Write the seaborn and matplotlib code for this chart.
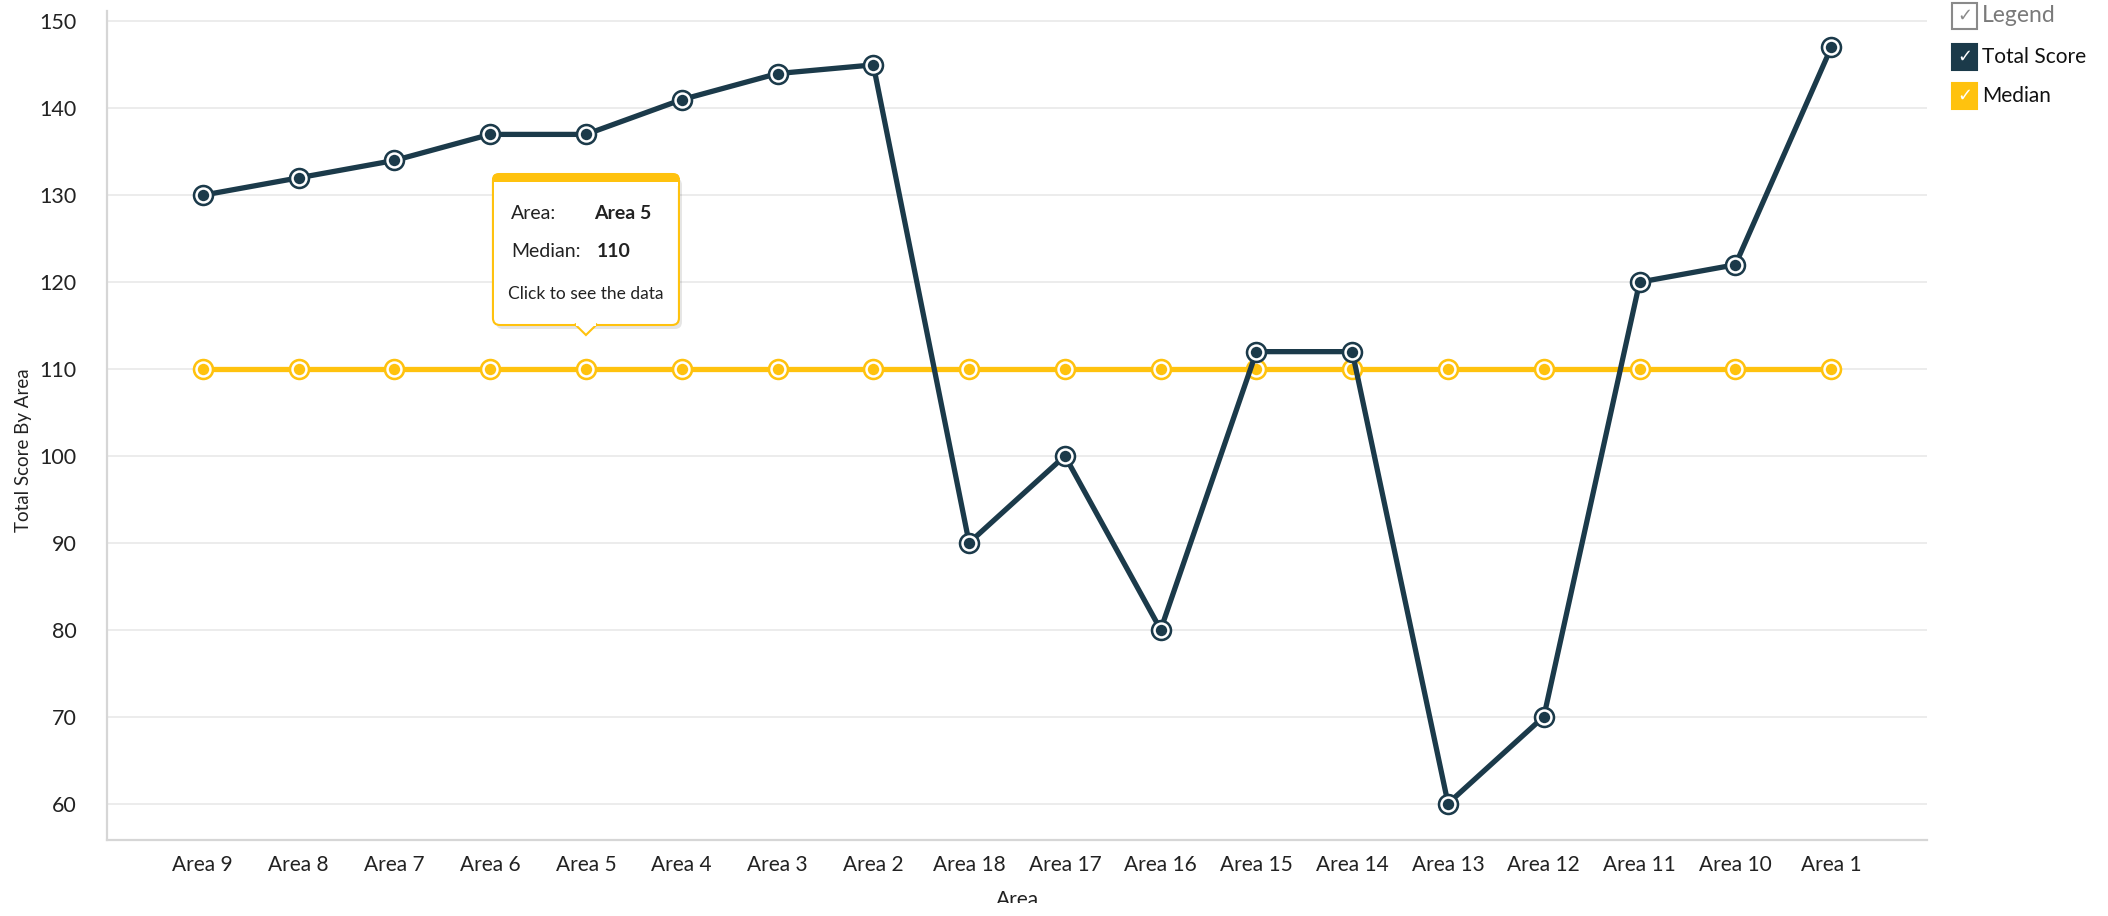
import matplotlib
matplotlib.use("Agg")
import matplotlib.pyplot as plt
import seaborn as sns
import pandas as pd
from matplotlib.patches import FancyBboxPatch, Rectangle, Polygon
from matplotlib.transforms import IdentityTransform

# ---- data ----
areas = ["Area 9", "Area 8", "Area 7", "Area 6", "Area 5", "Area 4", "Area 3", "Area 2",
         "Area 18", "Area 17", "Area 16", "Area 15", "Area 14", "Area 13", "Area 12",
         "Area 11", "Area 10", "Area 1"]
total_score = [130, 132, 134, 137, 137, 141, 144, 145, 90, 100, 80, 112, 112, 60, 70, 120, 122, 147]
median = [110] * 18
y_ticks = [60, 70, 80, 90, 100, 110, 120, 130, 140, 150]

DARK = "#1b3a4a"
YEL = "#ffc20e"

sns.set_theme(style="white")
plt.rcParams["font.family"] = ["Lato", "DejaVu Sans"]

df_total = pd.DataFrame({"Area": areas, "Score": total_score})
df_med = pd.DataFrame({"Area": areas, "Score": median})

fig = plt.figure(figsize=(21.08, 9.16), dpi=100)
ax = fig.add_axes([107 / 2108, 1 - 840 / 916, (1927 - 107) / 2108, (840 - 11) / 916])

for d, c, z in [(df_med, YEL, 3), (df_total, DARK, 4)]:
    sns.lineplot(data=d, x="Area", y="Score", sort=False, color=c, linewidth=3.8,
                 ax=ax, zorder=z)
    sns.scatterplot(data=d, x="Area", y="Score", color=c, s=240, linewidth=0,
                    ax=ax, zorder=z + 0.1)
    sns.scatterplot(data=d, x="Area", y="Score", color=c, s=100, edgecolor="white",
                    linewidth=1.8, ax=ax, zorder=z + 0.2)

ax.set_xlim(-1, len(areas))
ax.set_ylim(55.8, 151.2)
ax.set_yticks(y_ticks)
ax.set_yticklabels([str(v) for v in y_ticks], fontsize=15.5, color="#222222")
ax.set_xticks(range(len(areas)))
ax.set_xticklabels(areas, fontsize=15, color="#222222")
ax.tick_params(axis="x", length=0, pad=11)
ax.tick_params(axis="y", length=0, pad=22)
ax.grid(axis="y", color="#ebebeb", linewidth=1.3)
ax.set_axisbelow(True)
for s in ["top", "right"]:
    ax.spines[s].set_visible(False)
for s in ["left", "bottom"]:
    ax.spines[s].set_color("#d6d6d6")
    ax.spines[s].set_linewidth(1.6)
ax.set_xlabel("")
ax.set_ylabel("")

# axis titles
fig.text(24 / 2108, 1 - 450 / 916, "Total Score By Area", rotation=90, ha="center",
         va="center", fontsize=13.5, color="#222222")
fig.text(0.5 * (107 + 1927) / 2108, 1 - 890 / 916, "Area", ha="center", va="top",
         fontsize=15, color="#222222")
fig.patches.append(Rectangle((0, 0), 1, 1 - 903 / 916, transform=fig.transFigure,
                             facecolor="white", edgecolor="none", zorder=50))

# legend (custom checkbox style)
def legend_item(yc, label, face, edge, check_col, text_col, fsize):
    x0 = 1952
    sz = 25
    fig.patches.append(Rectangle(((x0) / 2108, 1 - (yc + sz / 2) / 916), sz / 2108, sz / 916,
                                 transform=fig.transFigure, facecolor=face, edgecolor=edge,
                                 linewidth=1.5, zorder=20))
    fig.text((x0 + sz / 2) / 2108, 1 - yc / 916, "\u2713", ha="center", va="center",
             color=check_col, fontsize=13, family=["DejaVu Sans"], zorder=21)
    fig.text(1982 / 2108, 1 - yc / 916, label, ha="left", va="center", color=text_col,
             fontsize=fsize, zorder=21)

legend_item(16, "Legend", "white", "#8a8a8a", "#8a8a8a", "#7a7a7a", 16.5)
legend_item(57, "Total Score", DARK, DARK, "white", "#111111", 15)
legend_item(96, "Median", YEL, YEL, "white", "#111111", 15)

# tooltip anchored at Area 5 / median point
fig.canvas.draw()
ax_idx = areas.index("Area 5")
px, py = ax.transData.transform((ax_idx, median[ax_idx]))
ident = IdentityTransform()
bx0, bx1 = px - 93, px + 93
by0, by1 = py + 44, py + 195
# shadow
sh = FancyBboxPatch((bx0 + 3, by0 - 4), bx1 - bx0, by1 - by0,
                    boxstyle="round,pad=0,rounding_size=7", transform=ident,
                    facecolor="#000000", alpha=0.10, edgecolor="none", zorder=30)
fig.patches.append(sh)
box = FancyBboxPatch((bx0, by0), bx1 - bx0, by1 - by0,
                     boxstyle="round,pad=0,rounding_size=7", transform=ident,
                     facecolor="white", edgecolor=YEL, linewidth=1.5, zorder=31)
fig.patches.append(box)
top = FancyBboxPatch((bx0, by1 - 9), bx1 - bx0, 9,
                     boxstyle="round,pad=0,rounding_size=5", transform=ident,
                     facecolor=YEL, edgecolor=YEL, linewidth=1.0, zorder=32)
fig.patches.append(top)
fig.patches.append(Rectangle((bx0 + 0.8, by1 - 12), bx1 - bx0 - 1.6, 4, transform=ident,
                             facecolor="white", edgecolor="none", zorder=32.5))
tri = Polygon([[px - 11, by0 + 0.8], [px + 11, by0 + 0.8], [px, by0 - 10]], closed=True,
              transform=ident, facecolor="white", edgecolor=YEL, linewidth=1.5, zorder=33)
fig.patches.append(tri)
fig.patches.append(Rectangle((px - 10, by0 - 0.5), 20, 3, transform=ident,
                             facecolor="white", edgecolor="none", zorder=34))

def ttext(dx, dy, s, **kw):
    fig.text((px + dx) / 2108, (py + dy) / 916, s, transform=fig.transFigure,
             zorder=35, color="#222222", va="center", **kw)

ttext(-75, 156, "Area:", ha="left", fontsize=14)
ttext(8, 156, "Area 5", ha="left", fontsize=14, fontweight="bold")
ttext(-75, 118, "Median:", ha="left", fontsize=14)
ttext(11, 118, "110", ha="left", fontsize=14, fontweight="bold")
ttext(0, 75, "Click to see the data", ha="center", fontsize=12.5)

fig.savefig("out.png", dpi=100)
